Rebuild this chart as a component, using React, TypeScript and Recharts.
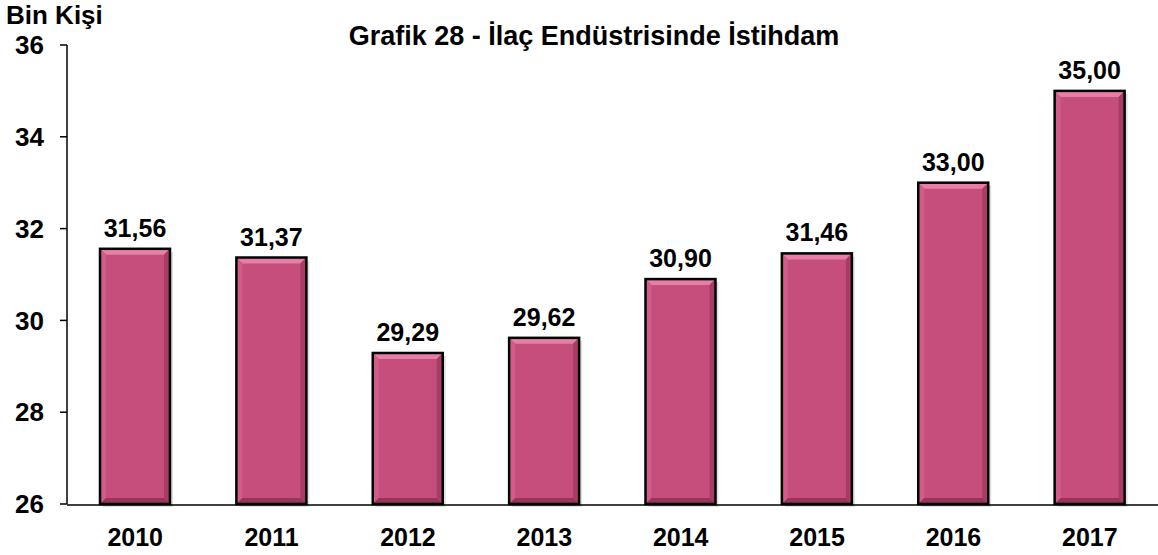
import { Bar, BarChart, LabelList, XAxis, YAxis } from "recharts";

const years = ["2010", "2011", "2012", "2013", "2014", "2015", "2016", "2017"];
const employment = [31.56, 31.37, 29.29, 29.62, 30.9, 31.46, 33.0, 35.0];
const yTicks = [26, 28, 30, 32, 34, 36];
const edgeTicks = [0, 1, 2, 3, 4, 5, 6, 7, 8];

const data = years.map((y, i) => ({ year: y, value: employment[i], pos: i + 0.5 }));

const FONT = "'Liberation Sans', Arial, sans-serif";

// beveled pink bar like the office chart
function BevelBar(props: any) {
  const { x, y, width: w, height: h } = props;
  if (!h || h <= 0) return null;
  const b = 6;
  return (
    <g>
      <rect x={x + 3} y={y + 3} width={w} height={h} fill="#000" opacity={0.12} />
      <rect x={x} y={y} width={w} height={h} fill="#C64E7C" />
      <polygon points={`${x},${y} ${x + w},${y} ${x + w - b},${y + b} ${x + b},${y + b}`} fill="#E67FA7" />
      <polygon points={`${x},${y} ${x + b},${y + b} ${x + b},${y + h - b} ${x},${y + h}`} fill="#D05C88" />
      <polygon points={`${x + w},${y} ${x + w},${y + h} ${x + w - b},${y + h - b} ${x + w - b},${y + b}`} fill="#A73C66" />
      <polygon points={`${x},${y + h} ${x + w},${y + h} ${x + w - b},${y + h - b} ${x + b},${y + h - b}`} fill="#96345B" />
      <rect x={x} y={y} width={w} height={h} fill="none" stroke="#000" strokeWidth={2.5} />
    </g>
  );
}

export default function App() {
  return (
    <div style={{ position: "absolute", left: 0, top: 0, width: 1158, height: 555, background: "#fff", fontFamily: FONT }}>
      <div style={{ position: "absolute", left: 6, top: 0, fontSize: 26, fontWeight: 700, color: "#000" }}>Bin Kişi</div>
      <div style={{ position: "absolute", left: 0, width: 1188, top: 21, textAlign: "center", fontSize: 27, fontWeight: 700, color: "#000" }}>
        Grafik 28 - İlaç Endüstrisinde İstihdam
      </div>
      <BarChart width={1158} height={555} data={data} margin={{ top: 45, right: 0, bottom: 10, left: 7 }} barSize={70}>
        <XAxis
          dataKey="year"
          height={1}
          axisLine={false}
          tickLine={false}
          tickMargin={18}
          tick={{ fill: "#000", fontSize: 25, fontWeight: 700, fontFamily: FONT }}
        />
        <XAxis
          xAxisId="edge"
          type="number"
          dataKey="pos"
          domain={[0, 8]}
          ticks={edgeTicks}
          tick={false}
          tickSize={9}
          height={40}
          axisLine={{ stroke: "#000", strokeWidth: 1.5 }}
          tickLine={{ stroke: "#000", strokeWidth: 1.5 }}
        />
        <YAxis
          domain={[26, 36]}
          ticks={yTicks}
          width={60}
          tickSize={7}
          tickMargin={16}
          axisLine={{ stroke: "#000", strokeWidth: 1.5 }}
          tickLine={{ stroke: "#000", strokeWidth: 1.5 }}
          tick={{ fill: "#000", fontSize: 26, fontWeight: 700, fontFamily: FONT }}
        />
        <Bar dataKey="value" shape={BevelBar} isAnimationActive={false}>
          <LabelList
            dataKey="value"
            position="top"
            offset={12}
            formatter={(v: any) => Number(v).toFixed(2).replace(".", ",")}
            style={{ fill: "#000", fontSize: 25, fontWeight: 700, fontFamily: FONT }}
          />
        </Bar>
      </BarChart>
    </div>
  );
}
